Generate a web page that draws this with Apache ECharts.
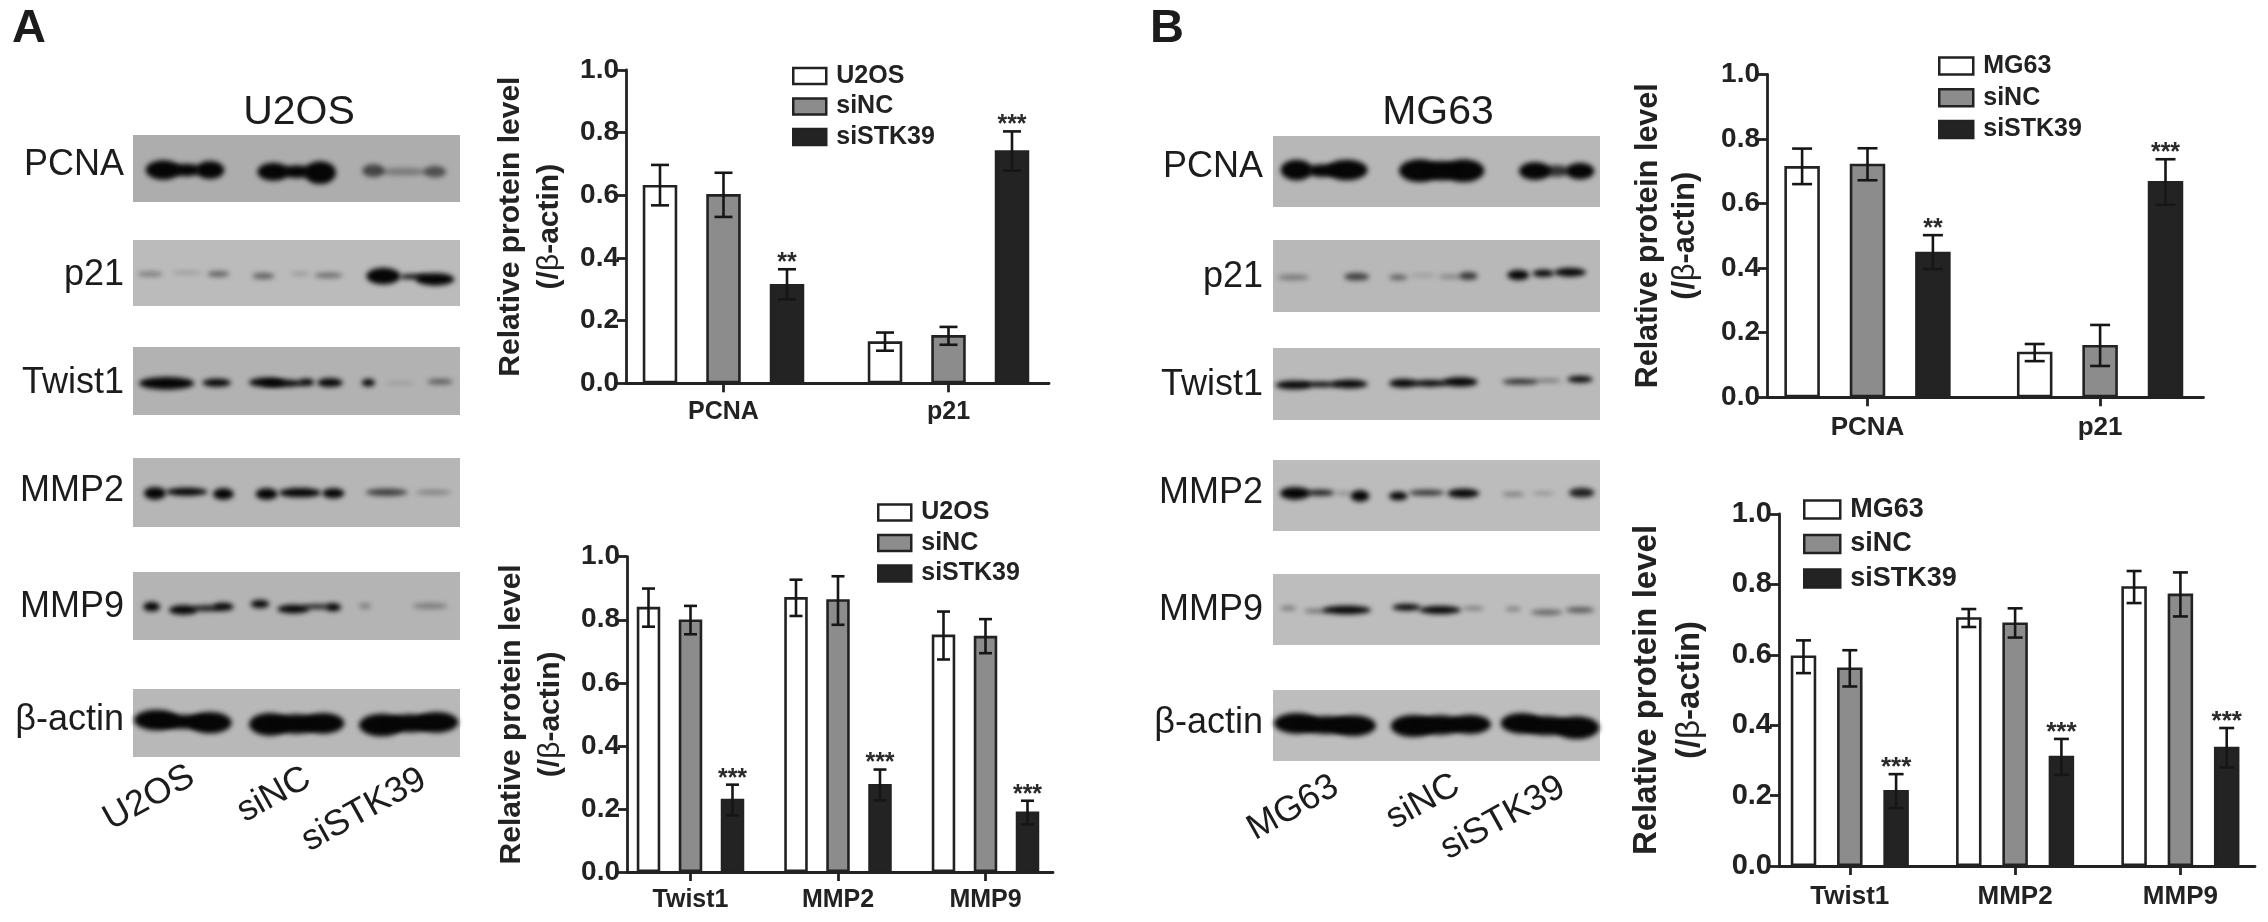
<!DOCTYPE html>
<html><head><meta charset="utf-8">
<script src="https://cdn.jsdelivr.net/npm/echarts@6/dist/echarts.min.js"></script>
<style>html,body{margin:0;background:#fff}#c{width:2268px;height:922px}</style></head>
<body><div id="c"></div>
<script>
// ---------- data ----------
const catsTop = ['PCNA', 'p21'];
const catsBottom = ['Twist1', 'MMP2', 'MMP9'];

const aTopCtrl = [0.633, 0.134], aTopCtrlHi = [0.697, 0.162], aTopCtrlLo = [0.568, 0.104];
const aTopNC = [0.604, 0.154], aTopNCHi = [0.672, 0.180], aTopNCLo = [0.531, 0.123];
const aTopKD = [0.317, 0.744], aTopKDHi = [0.364, 0.804], aTopKDLo = [0.268, 0.679];
const topStars = ['**', '***'];

const aBotCtrl = [0.841, 0.872, 0.753], aBotCtrlHi = [0.899, 0.927, 0.826], aBotCtrlLo = [0.778, 0.812, 0.674];
const aBotNC = [0.801, 0.865, 0.749], aBotNCHi = [0.844, 0.938, 0.802], aBotNCLo = [0.754, 0.784, 0.694];
const aBotKD = [0.232, 0.279, 0.192], aBotKDHi = [0.277, 0.325, 0.226], aBotKDLo = [0.180, 0.227, 0.151];
const bottomStars = ['***', '***', '***'];

const bTopCtrl = [0.716, 0.141], bTopCtrlHi = [0.770, 0.165], bTopCtrlLo = [0.660, 0.112];
const bTopNC = [0.723, 0.162], bTopNCHi = [0.771, 0.224], bTopNCLo = [0.672, 0.097];
const bTopKD = [0.451, 0.670], bTopKDHi = [0.502, 0.737], bTopKDLo = [0.397, 0.596];

const bBotCtrl = [0.598, 0.707, 0.795], bBotCtrlHi = [0.641, 0.730, 0.838], bBotCtrlLo = [0.548, 0.679, 0.747];
const bBotNC = [0.564, 0.692, 0.774], bBotNCHi = [0.613, 0.732, 0.834], bBotNCLo = [0.510, 0.649, 0.709];
const bBotKD = [0.216, 0.313, 0.339], bBotKDHi = [0.261, 0.361, 0.392], bBotKDLo = [0.165, 0.259, 0.280];

const blotRowNames = ['PCNA', 'p21', 'Twist1', 'MMP2', 'MMP9', 'β-actin'];
const lanesA = ['U2OS', 'siNC', 'siSTK39'];
const lanesB = ['MG63', 'siNC', 'siSTK39'];

// ---------- styling / layout ----------
const FONT = '"Liberation Sans", Arial, sans-serif';
const INK = '#222222';
const FILLS = ['#ffffff', '#8c8c8c', '#232323'];
const AXW = 2.8;

const panels = [
  { name:'a1', cats:catsTop, stars:topStars, group:lanesA,
    vals:[aTopCtrl,aTopNC,aTopKD], hi:[aTopCtrlHi,aTopNCHi,aTopKDHi], lo:[aTopCtrlLo,aTopNCLo,aTopKDLo],
    left:626,right:1049,top:70,bottom:383.3, tick0:723.5,spacing:225,barW:34.5,step:63.5,cap:18,
    legend:{left:792,top:63.5,w:33,h:16,gap:5.5,size:25}, tick:28,cat:25,nameSize:30,nameLH:39,nameGap:57,catMargin:16, starSize:25 },
  { name:'a2', cats:catsBottom, stars:bottomStars, group:lanesA,
    vals:[aBotCtrl,aBotNC,aBotKD], hi:[aBotCtrlHi,aBotNCHi,aBotKDHi], lo:[aBotCtrlLo,aBotNCLo,aBotKDLo],
    left:627,right:1053,top:556.7,bottom:872, tick0:690.5,spacing:147.5,barW:23.5,step:42,cap:13,
    legend:{left:877,top:500,w:33,h:16,gap:5.5,size:25}, tick:28,cat:25,nameSize:30,nameLH:39,nameGap:57,catMargin:16, starSize:25 },
  { name:'b1', cats:catsTop, stars:topStars, group:lanesB,
    vals:[bTopCtrl,bTopNC,bTopKD], hi:[bTopCtrlHi,bTopNCHi,bTopKDHi], lo:[bTopCtrlLo,bTopNCLo,bTopKDLo],
    left:1767,right:2203.5,top:74.3,bottom:397.3, tick0:1867.5,spacing:232.6,barW:35.5,step:65.4,cap:20,
    legend:{left:1938,top:53.5,w:34,h:17,gap:6.7,size:25}, tick:28,cat:26,nameSize:30.5,nameLH:37,nameGap:63,catMargin:18, starSize:25 },
  { name:'b2', cats:catsBottom, stars:bottomStars, group:lanesB,
    vals:[bBotCtrl,bBotNC,bBotKD], hi:[bBotCtrlHi,bBotNCHi,bBotKDHi], lo:[bBotCtrlLo,bBotNCLo,bBotKDLo],
    left:1779,right:2255,top:514,bottom:866, tick0:1849.8,spacing:165.3,barW:25.5,step:46.3,cap:15,
    legend:{left:1803,top:496,w:36,h:18,gap:7.5,size:27}, tick:29,cat:26,nameSize:33,nameLH:43,nameGap:68,catMargin:18, starSize:26 }
];

const option = { backgroundColor:'#fff', animation:false, grid:[], xAxis:[], yAxis:[], legend:[], series:[] };

panels.forEach((p, i) => {
  option.grid.push({ left:p.left, top:p.top, width:p.right-p.left, height:p.bottom-p.top, containLabel:false });
  const idx = p.cats.map((_, k) => k);
  option.xAxis.push({
    type:'value', gridIndex:i, position:'bottom', z:6,
    min:-(p.tick0-p.left)/p.spacing, max:(p.right-p.tick0)/p.spacing,
    splitLine:{show:false}, minorTick:{show:false},
    axisLine:{show:true, onZero:false, lineStyle:{color:INK,width:AXW}},
    axisTick:{show:true, length:9, lineStyle:{color:INK,width:AXW}, customValues:idx},
    axisLabel:{show:true, customValues:idx, formatter:v => p.cats[Math.round(v)], margin:p.catMargin,
      color:INK, fontFamily:FONT, fontWeight:'bold', fontSize:p.cat}
  });
  option.yAxis.push({
    type:'value', gridIndex:i, min:0, max:1, interval:0.2,
    splitLine:{show:false},
    axisLine:{show:true, onZero:false, lineStyle:{color:INK,width:AXW}},
    axisTick:{show:true, length:9, lineStyle:{color:INK,width:AXW}},
    axisLabel:{formatter:v => v.toFixed(1), margin:7, color:INK, fontFamily:FONT, fontWeight:'bold', fontSize:p.tick},
    name:'Relative protein level\n(/{beta|β}-actin)', nameLocation:'middle', nameGap:p.nameGap,
    nameTextStyle:{color:INK, fontFamily:FONT, fontWeight:'bold', fontSize:p.nameSize, lineHeight:p.nameLH, align:'center',
      rich:{beta:{fontFamily:FONT, fontWeight:'normal', fontSize:p.nameSize, color:INK, lineHeight:p.nameLH}}}
  });
  option.legend.push({
    orient:'vertical', left:p.legend.left, top:p.legend.top, padding:0, icon:'rect',
    itemWidth:p.legend.w, itemHeight:p.legend.h, itemGap:p.legend.gap, selectedMode:false,
    data:p.group.map(n => p.name + ':' + n),
    formatter:n => n.split(':')[1],
    itemStyle:{borderColor:INK, borderWidth:2.5},
    textStyle:{color:INK, fontFamily:FONT, fontWeight:'bold', fontSize:p.legend.size, padding:[0,0,0,5]}
  });
  p.group.forEach((g, s) => {
    option.series.push({
      type:'bar', name:p.name + ':' + g, xAxisIndex:i, yAxisIndex:i,
      data:p.vals[s].map((v, k) => [k, v]),
      barWidth:p.barW, barGap:((p.step-p.barW)/p.barW*100) + '%',
      itemStyle:{color:FILLS[s], borderColor:INK, borderWidth:2.6},
      silent:true
    });
  });
  const errData = [];
  p.group.forEach((g, s) => p.cats.forEach((_, k) => {
    errData.push({ value:[k, s-1, p.hi[s][k], p.lo[s][k]], star: s === 2 ? p.stars[k] : '' });
  }));
  option.series.push({
    type:'custom', xAxisIndex:i, yAxisIndex:i, silent:true, z:5, clip:false,
    encode:{x:0, y:[2,3]}, data:errData.map(d => d.value),
    renderItem:(params, api) => {
      const x = api.coord([api.value(0), 0])[0] + api.value(1) * p.step;
      const yH = api.coord([0, api.value(2)])[1], yL = api.coord([0, api.value(3)])[1];
      const st = { stroke:'#161616', lineWidth:2.6, fill:'none' };
      const line = (x1,y1,x2,y2) => ({ type:'line', shape:{x1,y1,x2,y2}, style:st });
      const ch = [ line(x,yH,x,yL), line(x-p.cap/2,yH,x+p.cap/2,yH), line(x-p.cap/2,yL,x+p.cap/2,yL) ];
      const star = errData[params.dataIndex].star;
      if (star) ch.push({ type:'text', x:x, y:yH-6, style:{ text:star, align:'center', verticalAlign:'middle',
        fontFamily:FONT, fontWeight:'bold', fontSize:p.starSize, fill:'#2a2a2a' } });
      return { type:'group', children:ch };
    }
  });
});

// ---------- western-blot panels (pictures, not chart data) ----------
const g = [];
function T(text, x, y, size, opt) {
  opt = opt || {};
  g.push({ type:'text', x, y, rotation:opt.rot || 0, z:20, style:{ text, align:opt.align || 'center', verticalAlign:'middle',
    fontFamily:FONT, fontWeight:opt.bold ? 'bold' : 'normal', fontSize:size, fill:'#1c1c1c' } });
}
function rowRect(x0,x1,y0,y1,c){ g.push({ type:'rect', z:1, shape:{x:x0,y:y0,width:x1-x0,height:y1-y0}, style:{fill:c} }); }
// blobs: cx, cy, rx, ry, strength (in 3x crop units, relative to ox, oy). Only the blurred shadow is visible.
const FAR = 4000;
function blobs(list, ox, oy) {
  list.forEach(b => {
    const rx = b[2]/3 + 1, ry = Math.max(b[3]/3 - 0.3, 1.4), a = Math.min(1, b[4]*1.25), c = 'rgba(6,6,6,' + a + ')';
    g.push({ type:'ellipse', z:2, shape:{cx:ox+b[0]/3-FAR, cy:oy+b[1]/3, rx, ry},
      style:{ fill:'#000', shadowBlur:5, shadowColor:c, shadowOffsetX:FAR } });
  });
}
const blotA = [
 [[490,510,50,30,1],[630,510,40,28,1],[560,510,40,20,.8],[820,515,45,28,1],[960,518,45,35,1],[890,515,40,20,.8],[1120,512,30,20,.5],[1305,515,30,18,.45],[1210,515,70,12,.25]],
 [[450,822,35,8,.3],[560,818,40,5,.18],[655,822,30,9,.4],[790,828,30,10,.4],[900,822,25,5,.2],[985,826,40,9,.35],[1150,828,48,26,1],[1240,830,40,8,.85],[1305,838,55,20,1]],
 [[500,1150,80,20,1],[650,1148,40,13,.9],[800,1147,50,15,.95],[850,1150,60,12,.9],[920,1147,20,12,.8],[990,1148,35,14,.95],[1105,1148,17,12,.8],[1200,1150,40,4,.15],[1320,1145,35,9,.4]],
 [[465,100,30,20,1],[560,95,60,13,1],[670,102,28,18,1],[800,102,30,18,1],[900,98,60,15,1],[1000,100,30,16,1],[1160,97,60,12,.55],[1300,97,50,8,.25]],
 [[455,440,22,15,.9],[550,450,40,15,.95],[620,445,40,10,.7],[670,440,28,13,.85],[780,432,25,13,.85],[880,447,45,14,.9],[950,440,40,8,.7],[1000,442,20,13,.85],[1095,438,15,9,.25],[1290,438,50,10,.25]],
 [[470,780,65,32,1],[550,785,80,22,1],[630,788,62,33,1],[810,793,60,35,1],[890,792,70,30,1],[970,790,60,32,1],[1145,795,65,35,1],[1230,790,70,28,1],[1310,787,62,32,1]]
];
const blotB = [
 [[500,510,45,32,1],[650,510,60,32,1],[575,512,40,20,.9],[870,512,60,35,1],[1000,512,60,35,1],[935,512,40,30,1],[1215,513,45,28,.85],[1350,513,40,26,.8],[1280,513,35,18,.6]],
 [[490,832,45,9,.3],[680,830,35,12,.55],[805,832,25,9,.4],[880,826,35,5,.18],[1015,828,25,12,.6],[960,830,30,6,.3],[1165,825,30,16,1],[1240,820,30,12,1],[1320,817,45,14,1]],
 [[490,1155,50,14,1],[570,1153,60,9,.85],[660,1152,50,14,1],[820,1150,40,14,1],[900,1150,50,11,.9],[990,1146,50,15,1],[1170,1145,50,9,.65],[1250,1142,40,5,.4],[1350,1138,35,11,.85]],
 [[495,100,42,20,1],[570,98,40,10,.7],[690,108,25,18,.85],[640,100,20,6,.25],[805,108,25,14,.9],[890,98,50,9,.65],[1000,100,45,15,.95],[1150,103,30,7,.3],[1240,100,30,5,.25],[1355,98,35,15,.7]],
 [[475,445,20,7,.35],[560,453,35,6,.4],[650,450,70,14,1],[830,442,40,11,.85],[930,450,60,13,1],[1030,445,30,6,.35],[1150,447,20,7,.3],[1250,457,45,9,.4],[1350,450,40,9,.45]],
 [[500,790,65,32,1],[590,795,80,28,1],[670,797,65,32,1],[850,798,65,34,1],[930,795,70,30,1],[1020,793,60,30,1],[1175,790,60,32,1],[1250,797,70,30,1],[1340,803,65,35,1]]
];
const blotCfg = [
 { ox:0, x0:133, x1:460, rows:[[135,202],[240,306],[347,415],[458,527],[572,640],[689,757]], labelX:124, labelY:[165,275,383,491,607,720],
   title:'U2OS', titleX:299, titleY:113, lanes:lanesA, laneXY:[[149,798],[274,795],[364,810]], blot:blotA, letter:'A', letterX:29, color:['#adadad','#bbbbbb','#b2b2b2','#b6b6b6','#b4b4b4','#b8b8b8'] },
 { ox:1130, x0:1273, x1:1600, rows:[[136,207],[240,312],[348,420],[460,531],[574,645],[690,761]], labelX:1263, labelY:[167,277,385,493,610,723],
   title:'MG63', titleX:1438, titleY:113, lanes:lanesB, laneXY:[[1293,808],[1423,802],[1503,818]], blot:blotB, letter:'B', letterX:1167, color:['#b7b7b7','#b8b8b8','#bababa','#bcbcbc','#bdbdbd','#bdbdbd'] }
];
blotCfg.forEach(c => {
  T(c.letter, c.letterX, 29, 47, {bold:true});
  T(c.title, c.titleX, c.titleY, 41);
  c.rows.forEach((r, i) => {
    rowRect(c.x0, c.x1, r[0], r[1], c.color[i]);
    blobs(c.blot[i], c.ox, i < 3 ? 0 : 460);
    T(blotRowNames[i], c.labelX, c.labelY[i], 36, {align:'right'});
  });
  c.lanes.forEach((n, i) => T(n, c.laneXY[i][0], c.laneXY[i][1], 36, {rot:Math.PI/6.2}));
});
option.graphic = { elements:g };

echarts.init(document.getElementById('c'), null, {renderer:'canvas'}).setOption(option);
</script></body></html>
